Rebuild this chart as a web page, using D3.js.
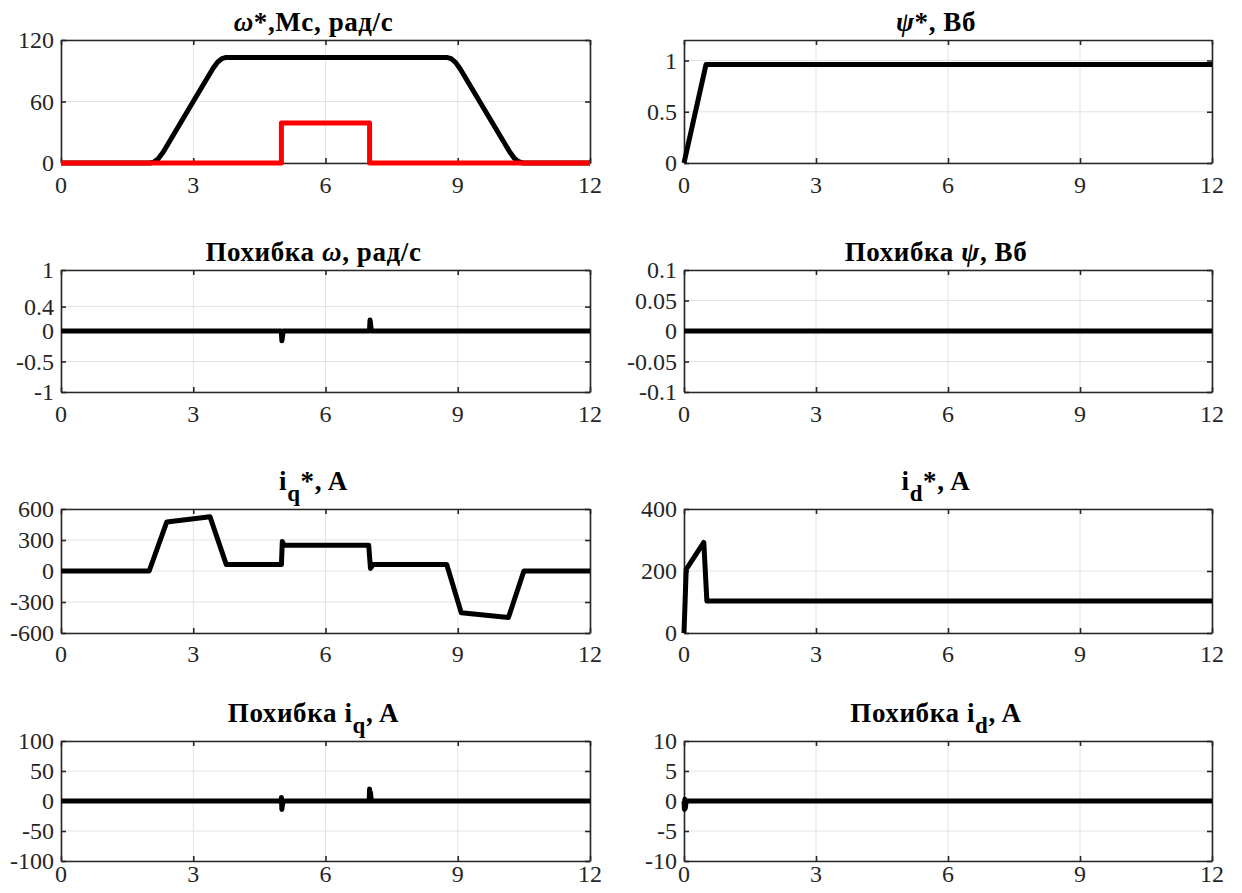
<!DOCTYPE html>
<html>
<head>
<meta charset="utf-8">
<script src="https://cdn.jsdelivr.net/npm/d3@7"></script>
<style>
  html, body { margin: 0; padding: 0; background: #fff; }
  svg { display: block; }
  svg text { font-family: "Liberation Serif", "Times New Roman", "DejaVu Serif", serif; }
</style>
</head>
<body>
<svg id="fig" width="1242" height="893"></svg>
<script>
// ---- time axis shared by all panels ----
const xTickValues = [0, 3, 6, 9, 12];
const xTickLabels = ["0", "3", "6", "9", "12"];

// ---- speed reference ω* (rad/s) ----
const omegaRefT = [0, 2.02, 2.1, 2.2, 2.32, 3.0, 3.447, 3.55, 3.65, 3.747, 8.75, 8.85, 8.95, 9.05, 10.18, 10.28, 10.38, 10.48, 12];
const omegaRefV = [0, 0, 0.77, 3.9, 10.8, 60, 92.2, 98.3, 101.9, 103, 103, 101.8, 98.2, 92.2, 10.8, 4.8, 1.2, 0, 0];
// ---- load torque Mc ----
const torqueT = [0, 5, 5, 7, 7, 12];
const torqueV = [0, 0, 39, 39, 0, 0];

// ---- flux reference ψ* (Wb) ----
const psiRefT = [0, 0.5, 12];
const psiRefV = [0, 0.96, 0.96];

// ---- speed error (rad/s) ----
const omegaErrT = [0, 4.99, 5.0, 5.01, 5.02, 5.04, 6.99, 7.0, 7.01, 7.02, 7.04, 12];
const omegaErrV = [0, 0, -0.03, -0.16, -0.12, 0, 0, 0.04, 0.18, 0.13, 0, 0];

// ---- flux error (Wb) ----
const psiErrT = [0, 12];
const psiErrV = [0, 0];

// ---- q-axis current reference (A) ----
const iqRefT = [0, 2.0, 2.4, 3.38, 3.75, 5.0, 5.02, 5.06, 6.98, 7.02, 7.08, 8.75, 9.08, 10.15, 10.5, 12];
const iqRefV = [0, 0, 475, 525, 62, 62, 285, 250, 250, 25, 62, 62, -405, -450, 0, 0];

// ---- d-axis current reference (A) ----
const idRefT = [0, 0.05, 0.45, 0.52, 12];
const idRefV = [0, 205, 292, 103, 103];

// ---- q-axis current error (A) ----
const iqErrT = [0, 4.99, 5.0, 5.01, 5.02, 5.04, 6.99, 7.0, 7.01, 7.02, 7.04, 12];
const iqErrV = [0, 0, 6, -14, -8, 0, 0, 20, 1, 14, 0, 0];

// ---- d-axis current error (A) ----
const idErrT = [0, 0.01, 0.02, 0.03, 0.05, 12];
const idErrV = [0, -1.4, 0.3, -1.2, 0, 0];

// ---- y-axis ranges and ticks ----
const yOmegaDomain = [0, 120],   yOmegaTicks = [0, 60, 120],            yOmegaLabels = ["0", "60", "120"];
const yPsiDomain = [0, 1.2],     yPsiTicks = [0, 0.5, 1],               yPsiLabels = ["0", "0.5", "1"];
const yOmErrDomain = [-1, 1],    yOmErrTicks = [-1, -0.5, 0, 0.4, 1],   yOmErrLabels = ["-1", "-0.5", "0", "0.4", "1"];
const yPsiErrDomain = [-0.1, 0.1], yPsiErrTicks = [-0.1, -0.05, 0, 0.05, 0.1], yPsiErrLabels = ["-0.1", "-0.05", "0", "0.05", "0.1"];
const yIqDomain = [-600, 600],   yIqTicks = [-600, -300, 0, 300, 600],  yIqLabels = ["-600", "-300", "0", "300", "600"];
const yIdDomain = [0, 400],      yIdTicks = [0, 200, 400],              yIdLabels = ["0", "200", "400"];
const yIqErrDomain = [-100, 100], yIqErrTicks = [-100, -50, 0, 50, 100], yIqErrLabels = ["-100", "-50", "0", "50", "100"];
const yIdErrDomain = [-10, 10],  yIdErrTicks = [-10, -5, 0, 5, 10],     yIdErrLabels = ["-10", "-5", "0", "5", "10"];

// ---- layout ----
const colX = [[61, 590], [684, 1212]];
const rowY = [[40, 163], [270, 392], [509, 633], [741, 861]];
const xLabelGap = [30, 30, 29, 21];

const BLACK = "#000000";
const RED = "#ff0000";
const AXIS = "#262626";
const GRID = "#e3e3e3";

const zip = (t, v) => t.map((d, i) => [d, v[i]]);

const panels = [
  { row: 0, col: 0, title: [{ t: "ω", it: true }, { t: "*,Мс, рад/с" }],
    yd: yOmegaDomain, yt: yOmegaTicks, yl: yOmegaLabels,
    series: [{ d: zip(omegaRefT, omegaRefV), c: BLACK }, { d: zip(torqueT, torqueV), c: RED }] },
  { row: 0, col: 1, title: [{ t: "ψ", it: true }, { t: "*, Вб" }],
    yd: yPsiDomain, yt: yPsiTicks, yl: yPsiLabels,
    series: [{ d: zip(psiRefT, psiRefV), c: BLACK }] },
  { row: 1, col: 0, title: [{ t: "Похибка " }, { t: "ω", it: true }, { t: ", рад/с" }],
    yd: yOmErrDomain, yt: yOmErrTicks, yl: yOmErrLabels,
    series: [{ d: zip(omegaErrT, omegaErrV), c: BLACK }] },
  { row: 1, col: 1, title: [{ t: "Похибка " }, { t: "ψ", it: true }, { t: ", Вб" }],
    yd: yPsiErrDomain, yt: yPsiErrTicks, yl: yPsiErrLabels,
    series: [{ d: zip(psiErrT, psiErrV), c: BLACK }] },
  { row: 2, col: 0, title: [{ t: "i" }, { t: "q", sub: true }, { t: "*, A" }],
    yd: yIqDomain, yt: yIqTicks, yl: yIqLabels,
    series: [{ d: zip(iqRefT, iqRefV), c: BLACK }] },
  { row: 2, col: 1, title: [{ t: "i" }, { t: "d", sub: true }, { t: "*, A" }],
    yd: yIdDomain, yt: yIdTicks, yl: yIdLabels,
    series: [{ d: zip(idRefT, idRefV), c: BLACK }] },
  { row: 3, col: 0, title: [{ t: "Похибка i" }, { t: "q", sub: true }, { t: ", A" }],
    yd: yIqErrDomain, yt: yIqErrTicks, yl: yIqErrLabels,
    series: [{ d: zip(iqErrT, iqErrV), c: BLACK }] },
  { row: 3, col: 1, title: [{ t: "Похибка i" }, { t: "d", sub: true }, { t: ", A" }],
    yd: yIdErrDomain, yt: yIdErrTicks, yl: yIdErrLabels,
    series: [{ d: zip(idErrT, idErrV), c: BLACK }] }
];

const svg = d3.select("#fig");
svg.append("rect").attr("width", 1242).attr("height", 893).attr("fill", "#fff");

panels.forEach(p => {
  const [x0, x1] = colX[p.col];
  const [y0, y1] = rowY[p.row];
  const x = d3.scaleLinear().domain([0, 12]).range([x0, x1]);
  const y = d3.scaleLinear().domain(p.yd).range([y1, y0]);
  const g = svg.append("g");

  // grid
  const grid = g.append("g").attr("stroke", GRID).attr("stroke-width", 1);
  xTickValues.forEach(v => grid.append("line")
    .attr("x1", x(v)).attr("x2", x(v)).attr("y1", y0).attr("y2", y1));
  p.yt.forEach(v => grid.append("line")
    .attr("x1", x0).attr("x2", x1).attr("y1", y(v)).attr("y2", y(v)));

  // axes (box style: ticks on all sides pointing inward)
  const tick = 5;
  const axB = g.append("g").attr("transform", `translate(0,${y1})`)
    .call(d3.axisBottom(x).tickValues(xTickValues).tickFormat("").tickSizeInner(-tick).tickSizeOuter(0));
  const axT = g.append("g").attr("transform", `translate(0,${y0})`)
    .call(d3.axisTop(x).tickValues(xTickValues).tickFormat("").tickSizeInner(-tick).tickSizeOuter(0));
  const axL = g.append("g").attr("transform", `translate(${x0},0)`)
    .call(d3.axisLeft(y).tickValues(p.yt).tickFormat("").tickSizeInner(-tick).tickSizeOuter(0));
  const axR = g.append("g").attr("transform", `translate(${x1},0)`)
    .call(d3.axisRight(y).tickValues(p.yt).tickFormat("").tickSizeInner(-tick).tickSizeOuter(0));
  [axB, axT, axL, axR].forEach(a => {
    a.select(".domain").attr("stroke", AXIS).attr("stroke-width", 1.6);
    a.selectAll(".tick line").attr("stroke", AXIS).attr("stroke-width", 1.6);
  });

  // tick labels
  xTickValues.forEach((v, i) => g.append("text")
    .attr("x", x(v)).attr("y", y1 + xLabelGap[p.row])
    .attr("text-anchor", "middle")
    .attr("font-size", 24).attr("fill", AXIS)
    .text(xTickLabels[i]));
  p.yt.forEach((v, i) => g.append("text")
    .attr("x", x0 - 7).attr("y", y(v)).attr("dy", "0.34em")
    .attr("text-anchor", "end")
    .attr("font-size", 24).attr("fill", AXIS)
    .text(p.yl[i]));

  // data
  const line = d3.line().x(d => x(d[0])).y(d => y(d[1]));
  p.series.forEach(s => g.append("path")
    .datum(s.d)
    .attr("d", line)
    .attr("fill", "none")
    .attr("stroke", s.c)
    .attr("stroke-width", 5)
    .attr("stroke-linejoin", "round")
    .attr("stroke-linecap", "butt"));

  // title
  const hasSub = p.title.some(t => t.sub);
  const tt = g.append("text")
    .attr("x", (x0 + x1) / 2 - 12)
    .attr("y", hasSub ? y0 - 19 : y0 - 9)
    .attr("text-anchor", "middle")
    .attr("font-size", 27).attr("font-weight", "bold")
    .attr("letter-spacing", 0.6)
    .attr("fill", "#000");
  p.title.forEach((part, i) => {
    const ts = tt.append("tspan").text(part.t);
    if (part.it) ts.attr("font-style", "italic");
    if (part.sub) ts.attr("font-size", 23).attr("dy", 11);
    else if (i > 0 && p.title[i - 1].sub) ts.attr("dy", -11);
  });
});
</script>
</body>
</html>
